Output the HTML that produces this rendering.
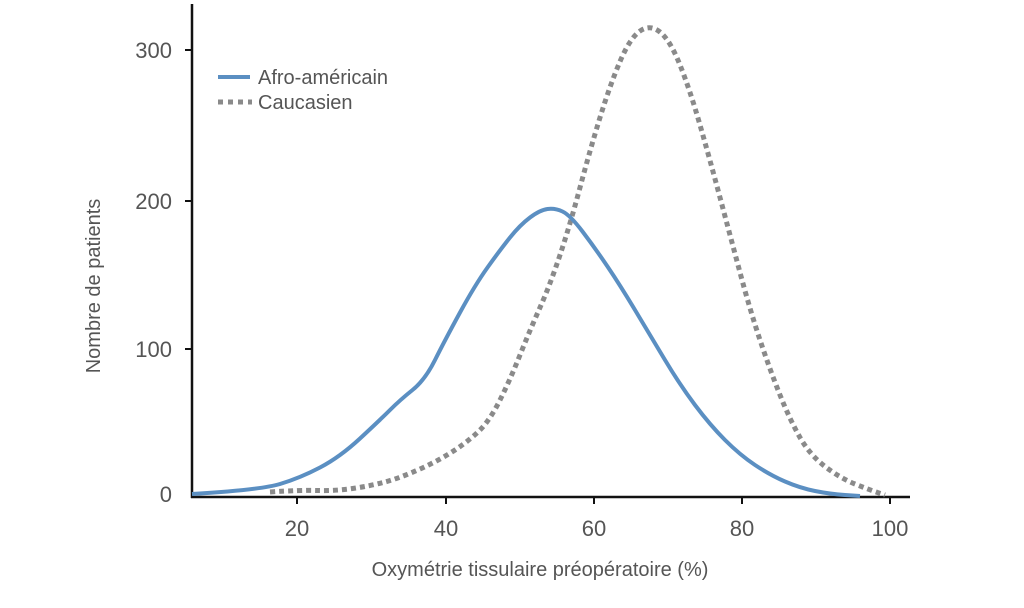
<!DOCTYPE html>
<html><head><meta charset="utf-8"><style>body{margin:0;background:#fff}svg{display:block}</style></head>
<body>
<svg id="s" width="1024" height="608" xmlns="http://www.w3.org/2000/svg" font-family="Liberation Sans, sans-serif">
<rect width="1024" height="608" fill="#fff"/>
<line x1="192" y1="4" x2="192" y2="498" stroke="#111" stroke-width="2.5"/>
<line x1="191" y1="497" x2="910" y2="497" stroke="#111" stroke-width="2.5"/>
<g stroke="#111" stroke-width="2">
<line x1="297" y1="497" x2="297" y2="504"/><line x1="446" y1="497" x2="446" y2="504"/><line x1="594" y1="497" x2="594" y2="504"/><line x1="742" y1="497" x2="742" y2="504"/><line x1="890" y1="497" x2="890" y2="504"/>
<line x1="185" y1="50" x2="192" y2="50"/><line x1="185" y1="201" x2="192" y2="201"/><line x1="185" y1="349" x2="192" y2="349"/>
</g>
<g fill="#555" font-size="22" text-anchor="end">
<text x="172" y="58">300</text><text x="172" y="209">200</text><text x="172" y="357">100</text><text x="172" y="502">0</text>
</g>
<g fill="#555" font-size="22" text-anchor="middle">
<text x="297" y="536">20</text><text x="446" y="536">40</text><text x="594" y="536">60</text><text x="742" y="536">80</text><text x="890" y="536">100</text>
</g>
<text x="540" y="576" fill="#555" font-size="20" text-anchor="middle">Oxymétrie tissulaire préopératoire (%)</text>
<text transform="translate(100,286) rotate(-90)" fill="#555" font-size="20" text-anchor="middle">Nombre de patients</text>
<path id="g" fill="none" stroke="#8a8a8a" stroke-width="5" stroke-dasharray="5,4" d=""/>
<path id="b" fill="none" stroke="#5b8fc2" stroke-width="4" stroke-linejoin="round" d=""/>
<line x1="218" y1="77" x2="250" y2="77" stroke="#5b8fc2" stroke-width="4"/>
<line x1="218" y1="102" x2="252" y2="102" stroke="#8a8a8a" stroke-width="5" stroke-dasharray="5,5"/>
<text x="258" y="84" fill="#555" font-size="20">Afro-américain</text>
<text x="258" y="109" fill="#555" font-size="20">Caucasien</text>
</svg>
<script>
function sm(p){var d="M"+p[0][0]+","+p[0][1];for(var i=1;i<p.length-1;i++){var mx=(p[i][0]+p[i+1][0])/2,my=(p[i][1]+p[i+1][1])/2;d+=" Q"+p[i][0]+","+p[i][1]+" "+mx+","+my;}var l=p[p.length-1];return d+" L"+l[0]+","+l[1];}
var g=[[270,492],[300,490],[335,491],[370,486],[400,478],[440,460],[470,440],[490,420],[510,380],[530,330],[550,285],[570,225],[590,150],[610,85],[630,38],[650,24],[670,40],[690,90],[710,160],[730,235],[750,310],[770,370],[790,420],[810,455],[840,478],[870,490],[885,495]];
var b=[[192,494],[260,490],[300,478],[340,457],[380,420],[400,400],[425,380],[445,340],[475,285],[500,250],[520,225],[540,210],[555,208],[570,215],[595,248],[620,285],[650,335],[680,385],[710,425],[740,455],[770,475],[800,488],[830,494],[860,496]];
document.getElementById("g").setAttribute("d",sm(g));
document.getElementById("b").setAttribute("d",sm(b));
</script>
</body></html>
